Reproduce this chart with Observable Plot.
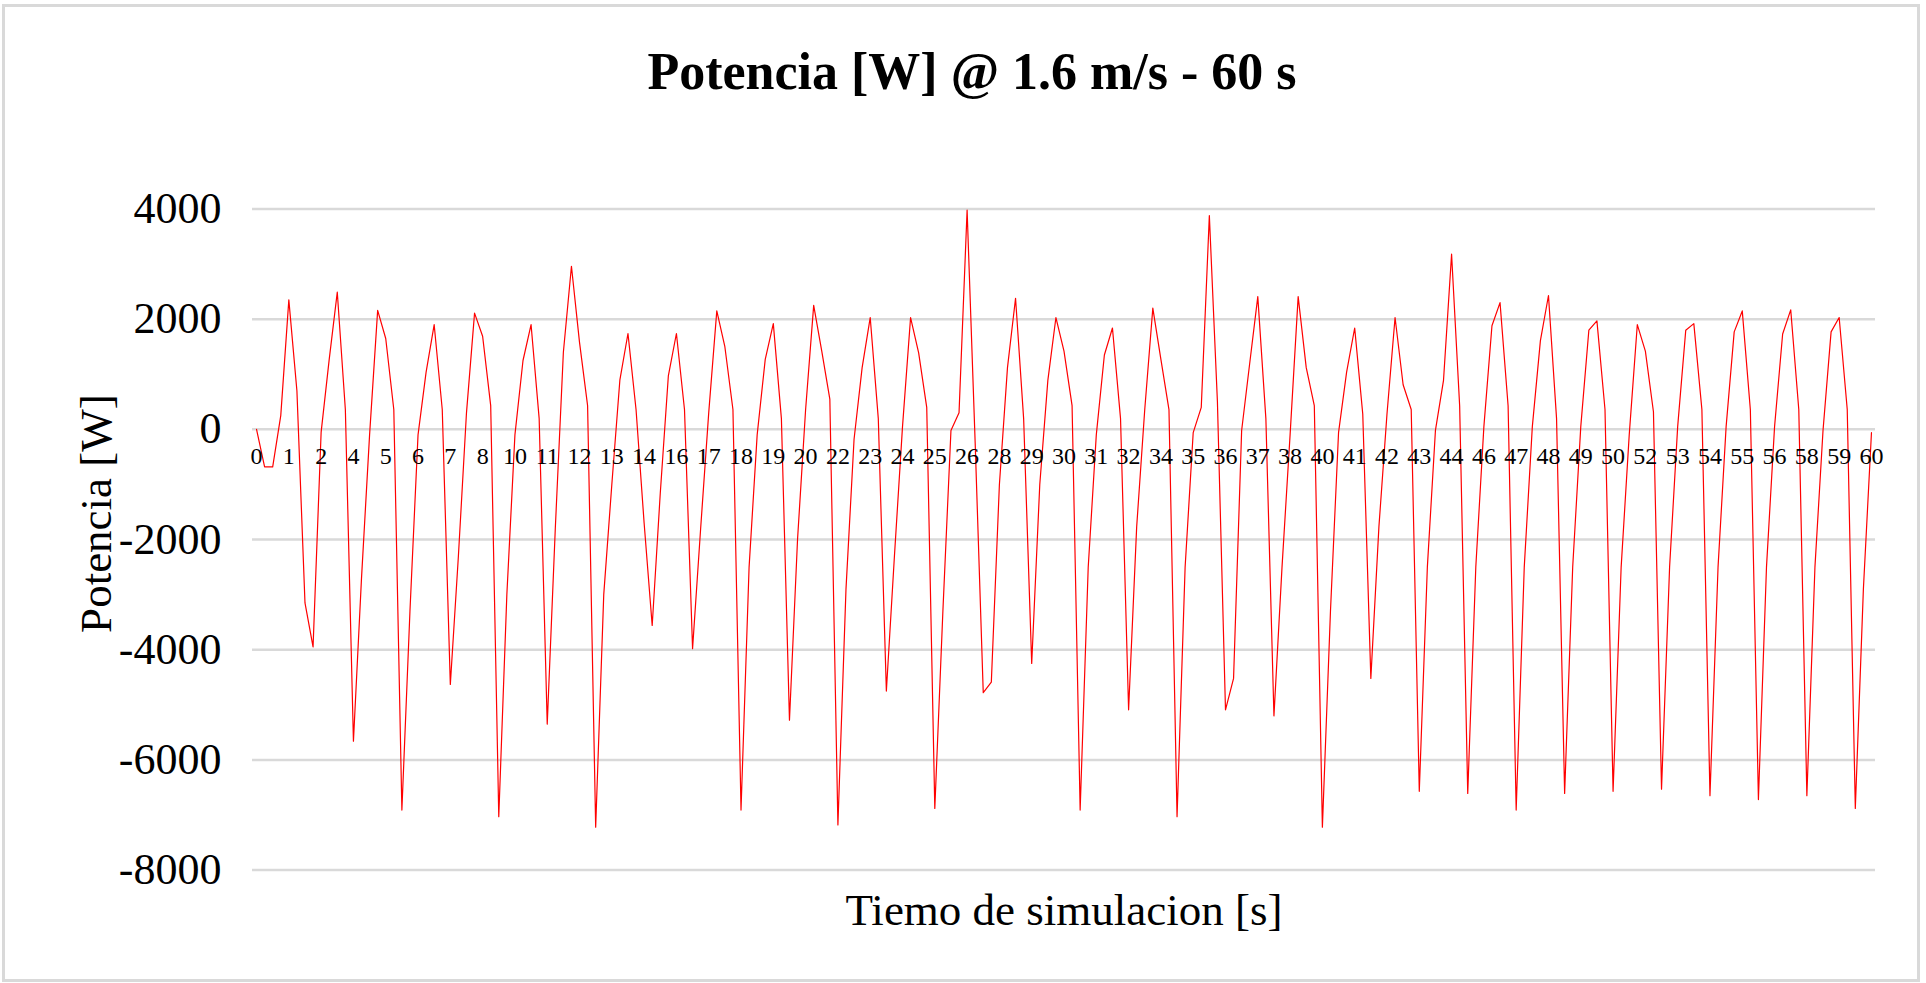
<!DOCTYPE html>
<html>
<head>
<meta charset="utf-8">
<script src="https://cdn.jsdelivr.net/npm/d3@7"></script>
<script src="https://cdn.jsdelivr.net/npm/@observablehq/plot@0.6"></script>
<style>
  html, body { margin: 0; padding: 0; background: #fff; }
  #chart { position: relative; width: 1926px; height: 983px; overflow: hidden; background: #fff; }
  #frame { position: absolute; left: 2px; top: 4px; width: 1912px; height: 972px; border: 3px solid #d9d9d9; }
  #title { position: absolute; left: 0; top: 46px; width: 1944px; text-align: center;
           font-family: "Liberation Serif", "Times New Roman", serif; font-weight: bold;
           font-size: 52px; line-height: 52px; color: #000; }
  #plot { position: absolute; left: 0; top: 130px; }
</style>
</head>
<body>
<div id="chart">
  <div id="frame"></div>
  <div id="title">Potencia [W] @ 1.6 m/s - 60 s</div>
  <div id="plot"></div>
</div>
<script>
// Power samples [W], one every 0.3 s from 0 to 60 s (201 samples)
const potencia = [
  0, -680, -680, 250, 2350, 700, -3150, -3950, -50, 1270,
  2490, 360, -5660, -2700, -100, 2160, 1650, 360, -6910, -3300,
  -100, 1040, 1900, 360, -4630, -2300, 300, 2110, 1690, 430,
  -7030, -3000, -100, 1250, 1900, 200, -5350, -1800, 1400, 2960,
  1580, 430, -7220, -3000, -1000, 900, 1740, 360, -1700, -3560,
  -1160, 970, 1740, 360, -3980, -1800, 300, 2150, 1500, 360,
  -6910, -2500, -100, 1270, 1920, 200, -5280, -2000, 360, 2250,
  1420, 550, -7180, -2900, -180, 1120, 2030, 200, -4750, -2300,
  50, 2030, 1390, 400, -6880, -3300, -20, 300, 3980, -250,
  -4780, -4590, -1000, 1120, 2380, 200, -4250, -1000, 890, 2030,
  1420, 430, -6910, -2500, -100, 1350, 1840, 200, -5090, -1770,
  360, 2200, 1270, 360, -7030, -2500, -60, 400, 3880, 500,
  -5090, -4520, -20, 1200, 2410, 200, -5200, -2500, -100, 2410,
  1120, 430, -7220, -3300, -60, 1040, 1840, 280, -4520, -1770,
  280, 2030, 810, 360, -6570, -2500, -20, 890, 3180, 430,
  -6610, -2500, 50, 1880, 2300, 430, -6910, -2500, 50, 1610,
  2430, 200, -6610, -2500, 50, 1800, 1970, 360, -6570, -2500,
  -100, 1900, 1420, 320, -6530, -2500, 50, 1800, 1920, 360,
  -6650, -2500, 50, 1770, 2150, 360, -6720, -2500, 50, 1730,
  2170, 360, -6650, -2500, -20, 1770, 2030, 360, -6880, -2900,
  -60
];

// Category labels shown on the axis (every 4th sample)
const etiquetas = ["0","1","2","4","5","6","7","8","10","11","12","13","14","16","17","18","19","20","22","23","24","25","26","28","29","30","31","32","34","35","36","37","38","40","41","42","43","44","46","47","48","49","50","52","53","54","55","56","58","59","60"];
const pasoEtiqueta = 4;

const yTicks = [-8000, -6000, -4000, -2000, 0, 2000, 4000];

const data = potencia.map((p, i) => ({i, p}));
const labelData = etiquetas.map((t, k) => ({i: k * pasoEtiqueta, t}));

const W = 1926, H = 853;
const chart = Plot.plot({
  width: W,
  height: H,
  marginLeft: 252,
  marginRight: 51,
  marginTop: 78.5,
  marginBottom: 113.4,
  style: {fontFamily: "'Liberation Serif', 'Times New Roman', serif", background: "transparent", color: "#000"},
  x: {domain: [-0.5, potencia.length - 0.5], axis: null},
  y: {domain: [-8000, 4000], axis: null},
  marks: [
    Plot.gridY(yTicks, {stroke: "#d9d9d9", strokeOpacity: 1, strokeWidth: 2.5}),
    Plot.axisY(yTicks, {tickSize: 0, tickPadding: 31, fontSize: 44, fill: "#000", label: null, tickFormat: d => String(d)}),
    Plot.line(data, {x: "i", y: "p", stroke: "#ff0000", strokeWidth: 1.2}),
    Plot.text(labelData, {x: "i", y: () => 0, text: "t", dy: 27, fontSize: 24, fill: "#000"}),
    Plot.text(["Potencia [W]"], {frameAnchor: "left", textAnchor: "middle", lineAnchor: "middle", dx: -156, dy: -26, rotate: -90, fontSize: 45, fill: "#000"}),
    Plot.text(["Tiemo de simulacion [s]"], {frameAnchor: "bottom", lineAnchor: "middle", dy: 40, fontSize: 45, fill: "#000"})
  ]
});
document.getElementById("plot").appendChild(chart);
</script>
</body>
</html>
